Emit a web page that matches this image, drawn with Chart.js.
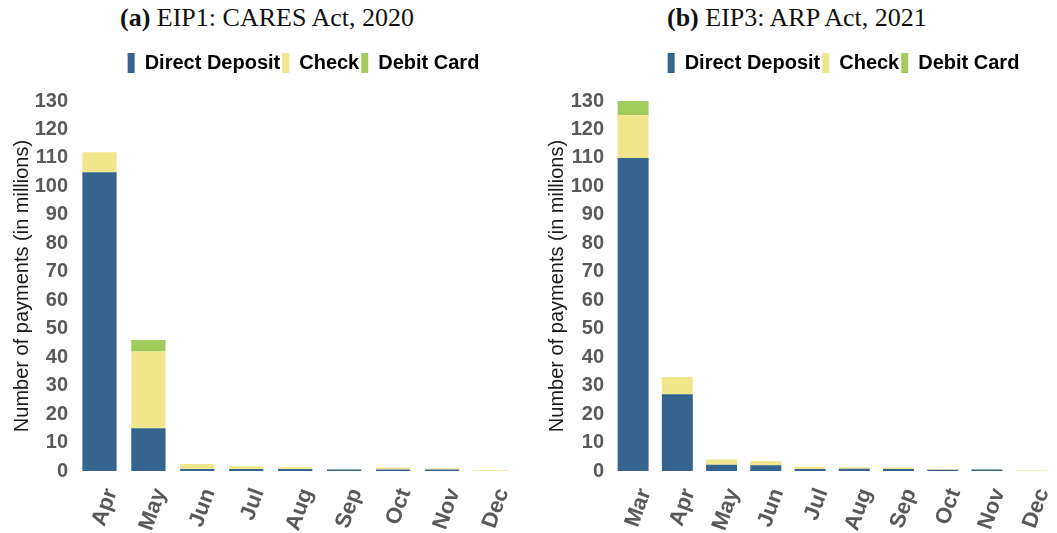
<!DOCTYPE html>
<html>
<head>
<meta charset="utf-8">
<script src="https://cdn.jsdelivr.net/npm/chart.js@4"></script>
<style>
  body { margin: 0; width: 1057px; height: 533px; overflow: hidden; background: #fff; position: relative; }
  .title { position: absolute; top: 3px; font-family: "Liberation Serif", serif; font-size: 26px; color: #111; white-space: nowrap; }
  .wrap { position: absolute; top: 40px; height: 493px; }
</style>
</head>
<body>
<div class="title" style="left:120px"><b>(a)</b> EIP1: CARES Act, 2020</div>
<div class="title" style="left:667px"><b>(b)</b> EIP3: ARP Act, 2021</div>
<div class="wrap" style="left:0; width:530px"><canvas id="c1"></canvas></div>
<div class="wrap" style="left:530px; width:540px"><canvas id="c2"></canvas></div>
<script>
// EIP1 (CARES Act, 2020), millions of payments
const months1 = ['Apr', 'May', 'Jun', 'Jul', 'Aug', 'Sep', 'Oct', 'Nov', 'Dec'];
const direct1 = [105, 15, 0.7, 0.7, 0.7, 0.5, 0.5, 0.5, 0];
const check1 = [7, 27, 1.8, 1.0, 0.6, 0.1, 0.7, 0.5, 0.3];
const debit1 = [0, 4, 0, 0, 0, 0, 0, 0, 0];

// EIP3 (ARP Act, 2021)
const months2 = ['Mar', 'Apr', 'May', 'Jun', 'Jul', 'Aug', 'Sep', 'Oct', 'Nov', 'Dec'];
const direct2 = [110, 27, 2.2, 2.0, 0.7, 0.8, 0.7, 0.4, 0.5, 0];
const check2 = [15, 6, 1.8, 1.5, 0.8, 0.5, 0.5, 0.2, 0.2, 0.2];
const debit2 = [5, 0, 0, 0, 0, 0, 0, 0, 0, 0];

const seriesNames = ['Direct Deposit', 'Check', 'Debit Card'];
const colors = ['#35648E', '#F0E68C', '#A2CC5C'];

Chart.defaults.font.family = '"Liberation Sans", Arial, sans-serif';

// extra space under the legend, and legend nudged right over the bars
const legendTweak = {
  id: 'legendTweak',
  beforeInit(chart) {
    const fit = chart.legend.fit;
    chart.legend.fit = function () {
      fit.bind(chart.legend)();
      this.height += 18;
    };
  },
  afterLayout(chart) {
    chart.legend.left += 36;
    chart.legend.right += 36;
  }
};

function makeChart(id, labels, vals, yWidth, padLeft, padRight) {
  new Chart(document.getElementById(id), {
    type: 'bar',
    data: {
      labels: labels,
      datasets: vals.map((d, i) => ({
        label: seriesNames[i],
        data: d,
        backgroundColor: colors[i],
        borderWidth: 0,
        categoryPercentage: 0.7,
        barPercentage: 1.0
      }))
    },
    plugins: [legendTweak],
    options: {
      responsive: false,
      animation: false,
      layout: { padding: { left: padLeft, right: padRight, top: 11, bottom: 0 } },
      plugins: {
        tooltip: { enabled: false },
        legend: {
          position: 'top',
          labels: {
            boxWidth: 7,
            boxHeight: 20,
            padding: 2,
            color: '#000',
            font: { size: 20, weight: 'bold' }
          }
        }
      },
      scales: {
        x: {
          stacked: true,
          grid: { display: false, drawTicks: false },
          border: { display: false },
          ticks: {
            color: '#595959',
            font: { size: 22, weight: 'bold' },
            maxRotation: 70,
            minRotation: 70,
            padding: 14,
            labelOffset: 12
          },
          afterFit: s => { s.height = 62; }
        },
        y: {
          stacked: true,
          min: 0,
          max: 130,
          grid: { display: false, drawTicks: false },
          border: { display: false },
          ticks: {
            stepSize: 10,
            color: '#595959',
            font: { size: 20, weight: 'bold' },
            padding: 7
          },
          title: {
            display: true,
            text: 'Number of payments (in millions)',
            color: '#1a1a1a',
            font: { size: 20 },
            padding: 0
          },
          afterFit: s => { s.width = yWidth; }
        }
      }
    }
  });
}

document.getElementById('c1').width = 530;
document.getElementById('c1').height = 493;
document.getElementById('c2').width = 540;
document.getElementById('c2').height = 493;
makeChart('c1', months1, [direct1, check1, debit1], 65, 10, 5);
makeChart('c2', months2, [direct2, check2, debit2], 66, 15, 0);
</script>
</body>
</html>
